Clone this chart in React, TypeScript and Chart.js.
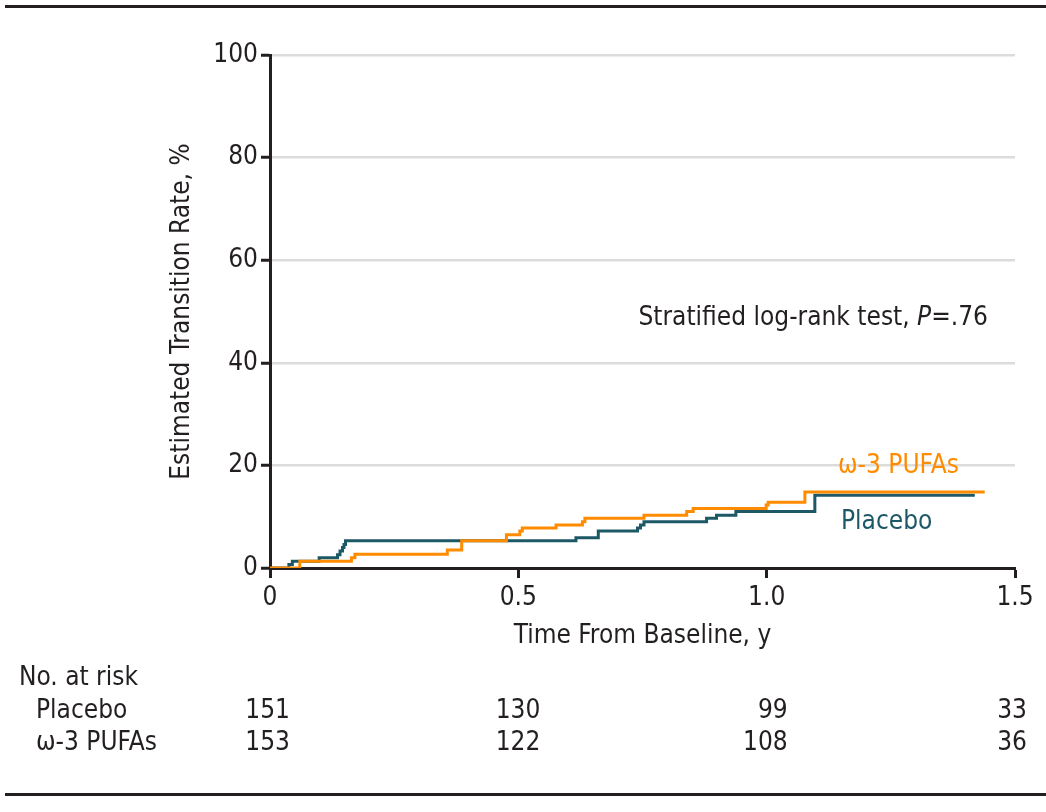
import React, { useEffect, useRef } from "react";
import { Chart, registerables } from "chart.js";

Chart.register(...registerables);

const FONT = '"DejaVu Sans Condensed", "Liberation Sans Narrow", "Liberation Sans", sans-serif';
const INK = "#231f20";
const TEAL = "#1d5866";
const ORANGE = "#ff8c00";
const FS = 26;

const placeboTimes = [0, 0.038, 0.045, 0.099, 0.136, 0.141, 0.146, 0.149, 0.152, 0.616, 0.661, 0.74, 0.746, 0.753, 0.879, 0.899, 0.938, 1.097, 1.419];
const placeboRates = [0, 0.7, 1.3, 2.0, 2.6, 3.3, 4.0, 4.6, 5.3, 5.9, 7.2, 7.8, 8.4, 9.0, 9.7, 10.3, 11.0, 14.2, 14.2];

const pufaTimes = [0, 0.06, 0.164, 0.171, 0.357, 0.386, 0.476, 0.503, 0.508, 0.576, 0.629, 0.634, 0.753, 0.839, 0.852, 0.999, 1.003, 1.077, 1.439];
const pufaRates = [0, 1.3, 2.0, 2.7, 3.5, 5.3, 6.5, 7.2, 7.8, 8.4, 9.0, 9.7, 10.3, 11.0, 11.6, 12.3, 12.8, 14.8, 14.8];

const xTickValues = [0, 0.5, 1.0, 1.5];
const xTickLabels = ["0", "0.5", "1.0", "1.5"];
const riskPlacebo = [151, 130, 99, 33];
const riskPufa = [153, 122, 108, 36];
const riskRightOffsets = [20, 22, 21, 12];

const toPoints = (t: number[], v: number[]) => t.map((x, i) => ({ x, y: v[i] }));

const overlay = {
  id: "overlay",
  afterDraw(chart: any) {
    const ctx = chart.ctx;
    const xs = chart.scales.x;
    ctx.save();
    // rules
    ctx.fillStyle = INK;
    ctx.fillRect(5, 5, 1041, 3);
    ctx.fillRect(5, 793, 1041, 3);

    ctx.textBaseline = "middle";
    // annotation
    const reg = `${FS}px ${FONT}`;
    const ital = `italic ${FS}px ${FONT}`;
    ctx.font = reg;
    ctx.fillStyle = INK;
    const a1 = "Stratified log-rank test, ";
    const a3 = "=.76";
    const w1 = ctx.measureText(a1).width;
    ctx.font = ital;
    const w2 = ctx.measureText("P").width;
    ctx.font = reg;
    const w3 = ctx.measureText(a3).width;
    const x0 = 988 - (w1 + w2 + w3);
    ctx.textAlign = "left";
    ctx.fillText(a1, x0, 318);
    ctx.font = ital;
    ctx.fillText("P", x0 + w1, 318);
    ctx.font = reg;
    ctx.fillText(a3, x0 + w1 + w2, 318);

    // series labels
    ctx.fillStyle = ORANGE;
    ctx.fillText("\u03c9-3 PUFAs", 838, 466);
    ctx.fillStyle = TEAL;
    ctx.fillText("Placebo", 841, 522);

    // risk table
    ctx.fillStyle = INK;
    ctx.fillText("No. at risk", 19, 678);
    ctx.fillText("Placebo", 36, 711);
    ctx.fillText("\u03c9-3 PUFAs", 36, 743);
    ctx.textAlign = "right";
    xTickValues.forEach((v, i) => {
      const px = xs.getPixelForValue(v) + riskRightOffsets[i];
      ctx.fillText(String(riskPlacebo[i]), px, 711);
      ctx.fillText(String(riskPufa[i]), px, 743);
    });
    ctx.restore();
  },
};

export default function App() {
  const ref = useRef<HTMLCanvasElement | null>(null);
  useEffect(() => {
    if (!ref.current) return;
    const chart = new Chart(ref.current, {
      type: "line",
      data: {
        datasets: [
          {
            label: "\u03c9-3 PUFAs",
            data: toPoints(pufaTimes, pufaRates),
            borderColor: ORANGE,
            borderWidth: 3,
            pointRadius: 0,
            stepped: "before",
            fill: false,
          },
          {
            label: "Placebo",
            data: toPoints(placeboTimes, placeboRates),
            borderColor: TEAL,
            borderWidth: 3,
            pointRadius: 0,
            stepped: "before",
            fill: false,
          },
        ],
      },
      options: {
        animation: false,
        responsive: false,
        maintainAspectRatio: false,
        layout: { padding: { left: 167, top: 55, right: 31, bottom: 160 } },
        plugins: { legend: { display: false }, tooltip: { enabled: false } },
        scales: {
          x: {
            type: "linear",
            min: 0,
            max: 1.5,
            afterBuildTicks: (s: any) => {
              s.ticks = xTickValues.map((v) => ({ value: v }));
            },
            afterFit: (s: any) => {
              s.height = 84;
            },
            ticks: {
              color: INK,
              font: { family: FONT, size: FS },
              padding: 5,
              maxRotation: 0,
              callback: (v: any) => {
                const i = xTickValues.indexOf(Number(v));
                return i >= 0 ? xTickLabels[i] : "";
              },
            },
            grid: { drawOnChartArea: false, drawTicks: true, tickLength: 10, tickColor: INK, tickWidth: 3 },
            border: { display: true, color: INK, width: 3 },
            title: {
              display: true,
              text: "Time From Baseline, y",
              color: INK,
              font: { family: FONT, size: FS },
              padding: { top: 0, bottom: 0 },
            },
          },
          y: {
            min: 0,
            max: 100,
            afterFit: (s: any) => {
              s.width = 103;
            },
            ticks: {
              stepSize: 20,
              color: INK,
              font: { family: FONT, size: FS },
              padding: 3,
            },
            grid: { color: "#dcdcdc", lineWidth: 2.5, drawTicks: true, tickLength: 9, tickColor: INK, tickWidth: 3 },
            border: { display: true, color: INK, width: 3 },
            title: {
              display: true,
              text: "Estimated Transition Rate, %",
              color: INK,
              font: { family: FONT, size: FS },
              padding: { top: 0, bottom: 0 },
            },
          },
        },
      },
      plugins: [overlay],
    } as any);
    return () => chart.destroy();
  }, []);
  return (
    <div style={{ position: "fixed", left: 0, top: 0, width: 1046, height: 812, background: "#fff" }}>
      <canvas ref={ref} width={1046} height={812} style={{ width: 1046, height: 812, display: "block" }} />
    </div>
  );
}
